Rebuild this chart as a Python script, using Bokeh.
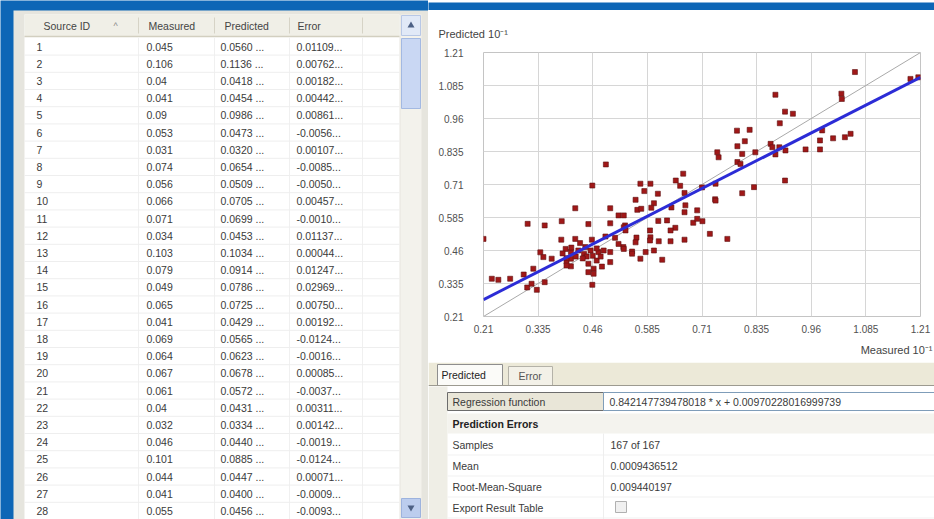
from bokeh.plotting import figure
from bokeh.layouts import column, row
from bokeh.models import Range1d, FixedTicker, Title
from bokeh.embed import file_html
from bokeh.resources import INLINE
from bokeh.core.properties import value

# ---------------- data ----------------
source_id = list(range(1, 29))
measured = [0.045, 0.106, 0.04, 0.041, 0.09, 0.053, 0.031, 0.074, 0.056, 0.066,
            0.071, 0.034, 0.103, 0.079, 0.049, 0.065, 0.041, 0.069, 0.064, 0.067,
            0.061, 0.04, 0.032, 0.046, 0.101, 0.044, 0.041, 0.055]
predicted = [0.0560, 0.1136, 0.0418, 0.0454, 0.0986, 0.0473, 0.0320, 0.0654, 0.0509, 0.0705,
             0.0699, 0.0453, 0.1034, 0.0914, 0.0786, 0.0725, 0.0429, 0.0565, 0.0623, 0.0678,
             0.0572, 0.0431, 0.0334, 0.0440, 0.0885, 0.0447, 0.0400, 0.0456]
error_text = ["0.01109...", "0.00762...", "0.00182...", "0.00442...", "0.00861...",
              "-0.0056...", "0.00107...", "-0.0085...", "-0.0050...", "0.00457...",
              "-0.0010...", "0.01137...", "0.00044...", "0.01247...", "0.02969...",
              "0.00750...", "0.00192...", "-0.0124...", "-0.0016...", "0.00085...",
              "-0.0037...", "0.00311...", "0.00142...", "-0.0019...", "-0.0124...",
              "0.00071...", "-0.0009...", "-0.0093..."]

# remaining cross-validation samples (original units)
extra_measured = [
    0.0459, 0.0420, 0.0500, 0.0519, 0.0311, 0.0350, 0.0389, 0.0500, 0.0210, 0.0388,
    0.0420, 0.0431, 0.0458, 0.0489, 0.0511, 0.0398, 0.0427, 0.0500, 0.0347, 0.0366,
    0.0450, 0.0462, 0.0500, 0.0481, 0.0324, 0.0302, 0.0271, 0.0229, 0.0244, 0.0332,
    0.0350, 0.0450, 0.0462, 0.0459, 0.0443, 0.0473, 0.0469, 0.0519, 0.0534,
    0.0446, 0.0455, 0.0469, 0.0478, 0.0437, 0.0485, 0.0391, 0.0411, 0.0421, 0.0400,
    0.0745, 0.0748, 0.0802, 0.0791, 0.0832, 0.0667, 0.0569, 0.0592, 0.0578, 0.0609,
    0.0558, 0.0600, 0.0562, 0.0571, 0.0594, 0.0672, 0.0670, 0.0699, 0.0741, 0.0802,
    0.0829, 0.0741, 0.0531, 0.0531, 0.0535, 0.0630, 0.0699, 0.0711, 0.0649, 0.0638,
    0.0591, 0.0592, 0.0591, 0.0558, 0.0611, 0.0638, 0.0670, 0.0728, 0.0768, 0.0531,
    0.0550, 0.0581, 0.0600, 0.0569, 0.0619,
    0.0819, 0.0791, 0.0808, 0.0798, 0.0878, 0.0888, 0.0918, 0.0867, 0.0871, 0.0878,
    0.0887, 0.0901, 0.0900, 0.0947, 0.0980, 0.0980, 0.0985, 0.1037, 0.1050, 0.1029,
    0.1187, 0.1205]
extra_predicted = [
    0.0706, 0.0620, 0.0620, 0.0593, 0.0561, 0.0555, 0.0571, 0.0563, 0.0504, 0.0501,
    0.0504, 0.0488, 0.0501, 0.0513, 0.0508, 0.0466, 0.0460, 0.0454, 0.0435, 0.0429,
    0.0410, 0.0391, 0.0416, 0.0399, 0.0391, 0.0369, 0.0353, 0.0353, 0.0349, 0.0311,
    0.0340, 0.0378, 0.0372, 0.0330, 0.0473, 0.0454, 0.0422, 0.0485, 0.0555,
    0.0437, 0.0460, 0.0468, 0.0437, 0.0430, 0.0460, 0.0449, 0.0471, 0.0437, 0.0403,
    0.0832, 0.0813, 0.0826, 0.0795, 0.0832, 0.0751, 0.0713, 0.0713, 0.0685, 0.0675,
    0.0652, 0.0639, 0.0614, 0.0618, 0.0622, 0.0631, 0.0605, 0.0612, 0.0649, 0.0677,
    0.0700, 0.0713, 0.0593, 0.0548, 0.0536, 0.0574, 0.0580, 0.0571, 0.0546, 0.0536,
    0.0536, 0.0510, 0.0498, 0.0491, 0.0495, 0.0495, 0.0501, 0.0523, 0.0504, 0.0466,
    0.0448, 0.0454, 0.0460, 0.0429, 0.0425,
    0.0917, 0.0855, 0.0874, 0.0788, 0.1050, 0.0942, 0.0978, 0.0864, 0.0851, 0.0824,
    0.0851, 0.0839, 0.0725, 0.0843, 0.0877, 0.0843, 0.0915, 0.0889, 0.0902, 0.1054,
    0.1110, 0.1116]

axis_scale = 10  # axes are in units of 10^-1
tick_values = [0.21, 0.335, 0.46, 0.585, 0.71, 0.835, 0.96, 1.085, 1.21]
tick_labels = ["0.21", "0.335", "0.46", "0.585", "0.71", "0.835", "0.96", "1.085", "1.21"]

reg_slope = 0.842147739478018
reg_intercept = 0.00970228016999739
regression_text = "0.842147739478018 * x + 0.00970228016999739"
stat_names = ["Samples", "Mean", "Root-Mean-Square", "Export Result Table"]
stat_values = ["167 of 167", "0.0009436512", "0.009440197", ""]
table_headers = ["Source ID", "Measured", "Predicted", "Error"]

# ---------------- styles ----------------
BLUE = "#0d66b6"
FONT = "Liberation Sans"
TXT = "#3a3a3a"
FS = "10.5px"


def no_align(f):
    if "frame_align" in f.properties():
        f.frame_align = False
    return f


def panel(w, h, xr, yr, bg):
    f = figure(width=w, height=h, x_range=Range1d(*xr), y_range=Range1d(*yr),
               x_axis_type=None, y_axis_type=None, output_backend="svg",
               toolbar_location=None, min_border=0, title=None)
    f.background_fill_color = bg
    f.border_fill_color = bg
    f.outline_line_color = None
    return no_align(f)


def txt(f, x, y, t, color=TXT, size=FS, style="normal", align="left"):
    f.text(x=x, y=y, text=t, text_font=value(FONT), text_font_size=size,
           text_font_style=style, text_color=color, text_baseline="middle", text_align=align)


# ---------------- table panel (screen px coordinates) ----------------
tbl = panel(428, 519, (0, 428), (519, 0), BLUE)
tbl.quad(left=13, right=428, top=10, bottom=519, fill_color="#e6e5de", line_color=None)
tbl.quad(left=24, right=399, top=14, bottom=519, fill_color="white", line_color=None)
tbl.quad(left=24, right=399, top=14, bottom=36, fill_color="#f0efe7", line_color=None)
tbl.segment(x0=24, y0=36, x1=399, y1=36, line_color="#d2cfc0", line_width=1.5)
col_sep = [138, 214, 289, 362]
tbl.segment(x0=col_sep, y0=[17] * 4, x1=col_sep, y1=[33] * 4, line_color="#d6d3c6")
tbl.segment(x0=col_sep, y0=[37] * 4, x1=col_sep, y1=[519] * 4, line_color="#f0f0f0")

row_y = [46 + i * 17.2 for i in range(len(source_id))]
tbl.segment(x0=[24] * len(row_y), y0=[y + 8.6 for y in row_y], x1=[399] * len(row_y),
            y1=[y + 8.6 for y in row_y], line_color="#eeeeee")

header_x = [43, 148, 224, 297]
txt(tbl, header_x, [25] * 4, table_headers, color="#444444")
txt(tbl, [113], [25], ["^"], color="#888888", size="9px")

txt(tbl, [36] * len(source_id), row_y, [str(s) for s in source_id])
txt(tbl, [146] * len(measured), row_y, [str(m) for m in measured])
txt(tbl, [220] * len(predicted), row_y, [f"{v:.4f} ..." for v in predicted])
txt(tbl, [296] * len(error_text), row_y, error_text)

# scrollbar
tbl.quad(left=400, right=421, top=14, bottom=519, fill_color="#f3f2ec", line_color=None)
tbl.quad(left=401, right=420, top=15, bottom=35, fill_color="#e1e9f7", line_color="#b8c8e6")
tbl.scatter(x=[410.5], y=[25], marker="triangle", size=7, fill_color="#4d6185", line_color=None)
tbl.quad(left=401, right=420, top=38, bottom=108, fill_color="#c9d7f3", line_color="#a3b9e2")
tbl.quad(left=401, right=420, top=498, bottom=517, fill_color="#bccdee", line_color="#9db3de")
tbl.scatter(x=[410.5], y=[507], marker="inverted_triangle", size=7, fill_color="#4d6185", line_color=None)

# ---------------- blue band above the chart ----------------
band = panel(506, 10, (0, 1), (0, 1), BLUE)

# ---------------- chart ----------------
xs = [m * axis_scale for m in measured + extra_measured]
ys = [v * axis_scale for v in predicted + extra_predicted]
lo, hi = tick_values[0], tick_values[-1]

p = figure(width=506, height=352, x_range=Range1d(lo, hi), y_range=Range1d(lo, hi),
           output_backend="svg", toolbar_location=None, title=None,
           min_border_left=55, min_border_right=14, min_border_top=42, min_border_bottom=46)
no_align(p)
p.background_fill_color = "white"
p.border_fill_color = "white"
p.outline_line_color = "#c4c4c4"
for ax in (p.xaxis[0], p.yaxis[0]):
    ax.ticker = FixedTicker(ticks=tick_values)
    ax.major_label_overrides = {v: s for v, s in zip(tick_values, tick_labels)}
    ax.axis_line_color = None
    ax.major_tick_line_color = None
    ax.minor_tick_line_color = None
    ax.major_tick_out = 0
    ax.major_label_text_font = FONT
    ax.major_label_text_font_size = "10px"
    ax.major_label_text_color = "#505050"
p.xaxis[0].major_label_standoff = 8
p.yaxis[0].major_label_standoff = 20
p.grid.grid_line_color = "#d6d6d6"

p.line(x=[lo, hi], y=[lo, hi], line_color="#a9a9a9", line_width=1)
p.scatter(x=xs, y=ys, marker="square", size=5, fill_color="#a01818", line_color="#5e1010", line_width=0.6)
p.line(x=[lo, hi], y=[reg_slope * lo + reg_intercept * axis_scale, reg_slope * hi + reg_intercept * axis_scale],
       line_color="#2c2cd6", line_width=3)

p.add_layout(Title(text="Predicted 10\u207b\u00b9", align="left", offset=-45, standoff=26,
                   text_font=FONT, text_font_size="11px", text_font_style="normal",
                   text_color="#444444"), "above")
p.add_layout(Title(text="Measured 10\u207b\u00b9", align="right", offset=-12, standoff=12,
                   text_font=FONT, text_font_size="11px", text_font_style="normal",
                   text_color="#444444"), "below")

# ---------------- info panel ----------------
info = panel(506, 157, (428, 934), (519, 362), "white")
info.quad(left=428, right=934, top=362, bottom=385, fill_color="#ece9d8", line_color=None)
info.quad(left=437, right=502, top=364, bottom=385, fill_color="#fbfbf8", line_color="#8e8e8e")
info.quad(left=508, right=552, top=366, bottom=385, fill_color="#f3f1e8", line_color="#b4b2a8")
txt(info, [441], [374.5], ["Predicted"], color="#222222")
txt(info, [518], [375.5], ["Error"], color="#555555")
info.segment(x0=428, y0=385, x1=934, y1=385, line_color="#9c9a90")
info.quad(left=428, right=447, top=386, bottom=519, fill_color="#efeee6", line_color=None)
info.quad(left=447, right=603, top=392, bottom=410, fill_color="#e9e6d8", line_color="#6c6c6c")
info.quad(left=603, right=934, top=392, bottom=410, fill_color="white", line_color="#7f9db9")
txt(info, [452], [401], ["Regression function"])
txt(info, [609], [401], [regression_text])
info.quad(left=447, right=934, top=413, bottom=433, fill_color="#f4f3ee", line_color=None)
txt(info, [452], [423], ["Prediction Errors"], color="#222222", style="bold")
stat_y = [444, 465, 486, 507]
info.segment(x0=[447] * 4, y0=[y + 10.5 for y in stat_y], x1=[934] * 4,
             y1=[y + 10.5 for y in stat_y], line_color="#f1f1f1")
info.segment(x0=603, y0=433, x1=603, y1=519, line_color="#eeeeee")
txt(info, [452] * 4, stat_y, stat_names)
txt(info, [610] * 4, stat_y, stat_values)
info.quad(left=615, right=626, top=501, bottom=512, fill_color="#f0f0f0", line_color="#b0b0b0")

layout = row(tbl, column(band, p, info, spacing=0), spacing=0)

open("out.html", "w").write(file_html(layout, INLINE, title="Cross Validation"))
